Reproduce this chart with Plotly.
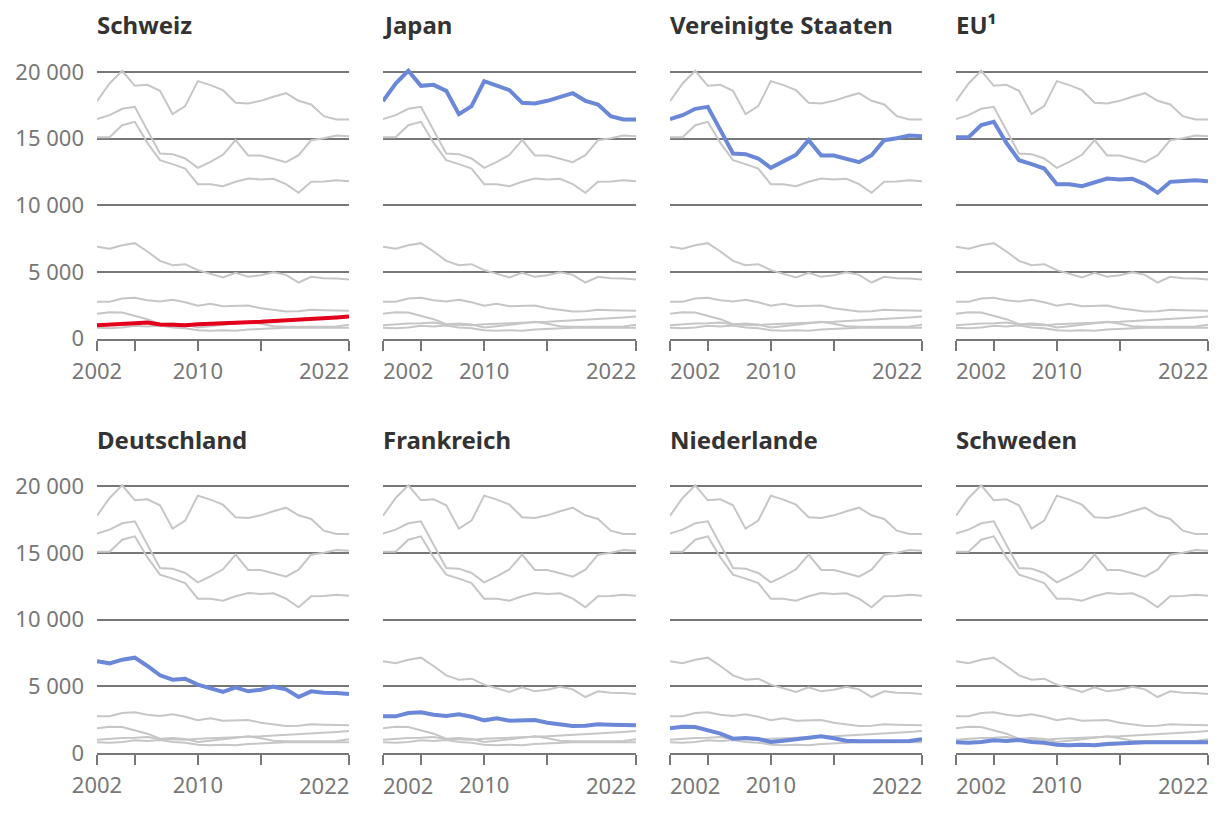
import plotly.graph_objects as go

years = list(range(2002, 2023))

countries = ["Schweiz", "Japan", "Vereinigte Staaten", "EU¹",
             "Deutschland", "Frankreich", "Niederlande", "Schweden"]

schweiz = [1000, 1075, 1125, 1150, 1200, 1050, 1025, 1000, 1075, 1125, 1150,
           1175, 1225, 1250, 1300, 1325, 1375, 1450, 1525, 1575, 1650]
japan = [17800, 19125, 20075, 18950, 19025, 18575, 16825, 17425, 19300, 19000, 18625,
         17675, 17625, 17825, 18125, 18400, 17825, 17550, 16675, 16425, 16425]
usa = [16450, 16750, 17225, 17375, 15625, 13875, 13825, 13500, 12800, 13250, 13775,
       14875, 13725, 13725, 13475, 13225, 13750, 14875, 15025, 15225, 15175]
eu = [15100, 15100, 16000, 16250, 14675, 13375, 13075, 12750, 11575, 11575, 11425,
      11750, 12000, 11925, 11975, 11575, 10925, 11750, 11775, 11875, 11800]
deutschland = [6875, 6725, 7000, 7150, 6525, 5825, 5500, 5575, 5125, 4825, 4575,
               4925, 4625, 4750, 4975, 4775, 4200, 4625, 4525, 4500, 4425]
frankreich = [2750, 2750, 3000, 3050, 2875, 2775, 2900, 2725, 2450, 2600, 2425,
              2425, 2475, 2275, 2125, 2025, 2050, 2150, 2125, 2125, 2075]
niederlande = [1850, 1975, 1950, 1725, 1450, 1075, 1125, 1050, 825, 925, 1025,
               1100, 1250, 1100, 925, 875, 875, 900, 900, 900, 1025]
schweden = [800, 775, 825, 950, 900, 975, 825, 775, 625, 575, 625,
            575, 675, 725, 775, 800, 800, 800, 800, 800, 800]

series = [schweiz, japan, usa, eu, deutschland, frankreich, niederlande, schweden]

y_tickvals = [0, 5000, 10000, 15000, 20000]
y_ticktext = ["0", "5 000", "10 000", "15 000", "20 000"]
x_tickvals = [2002, 2005, 2010, 2015, 2022]
x_ticktext_first = ["2002", "", "2010", "", ""]
x_ticktext_other = ["", "", "2010", "", ""]

GRAY = "#c6c6c6"
BLUE = "#6b87d8"
RED = "#e3001b"
AXIS = "#777777"
TEXT = "#333333"
FONT = "Noto Sans"

W, H = 1220, 820
OFF = 8  # page body offset
col_px = [(97, 349), (383, 636), (670, 922), (956, 1208)]
row_px = [(58.5, 338.5), (473, 753)]  # top, bottom pixel (visual)

fig = go.Figure()
layout = dict(
    width=W, height=H,
    margin=dict(l=0, r=0, t=0, b=0, autoexpand=False),
    paper_bgcolor="white", plot_bgcolor="white",
    showlegend=False,
    font=dict(family=FONT, size=22, color=AXIS),
)
annotations = []

for k, name in enumerate(countries):
    r, c = divmod(k, 4)
    ax = "" if k == 0 else str(k + 1)
    xa, ya = "x" + ax, "y" + ax
    x0, x1 = [v - OFF for v in col_px[c]]
    top, bot = [v - OFF for v in row_px[r]]
    layout["xaxis" + ax] = dict(
        domain=[x0 / W, x1 / W], anchor=ya, range=[2002, 2022],
        tickvals=x_tickvals,
        ticktext=x_ticktext_first if c == 0 else x_ticktext_other,
        automargin=False,
        showgrid=False, zeroline=False,
        showline=True, linecolor=AXIS, linewidth=2,
        ticks="outside", ticklen=10, tickwidth=2, tickcolor=AXIS,
        ticklabelstandoff=2,
        tickfont=dict(family=FONT, size=22, color=AXIS),
        fixedrange=True,
    )
    layout["yaxis" + ax] = dict(
        domain=[1 - bot / H, 1 - top / H], anchor=xa, range=[0, 21000],
        tickvals=y_tickvals, ticktext=y_ticktext, automargin=False,
        showgrid=True, gridcolor=AXIS, gridwidth=2,
        zeroline=False, showline=False, ticks="",
        showticklabels=(c == 0), ticklabelstandoff=12,
        tickfont=dict(family=FONT, size=22, color=AXIS),
        fixedrange=True,
    )
    for j, s in enumerate(series):
        if j == k:
            continue
        fig.add_trace(go.Scatter(x=years, y=s, mode="lines", xaxis=xa, yaxis=ya,
                                 line=dict(color=GRAY, width=2), hoverinfo="skip"))
    fig.add_trace(go.Scatter(x=years, y=series[k], mode="lines", xaxis=xa, yaxis=ya,
                             line=dict(color=RED if k == 0 else BLUE, width=4),
                             name=name))
    annotations.append(dict(
        text="<b>" + name + "</b>", xref="paper", yref="paper",
        x=x0 / W, y=1 - (top - 34) / H, xanchor="left", yanchor="middle",
        xshift=-2, showarrow=False, font=dict(family=FONT, size=24, color=TEXT),
    ))
    annotations.append(dict(
        text="2022", xref=xa, yref=ya, x=2022, y=0,
        xanchor="right", yanchor="top", yshift=-15, xshift=2, showarrow=False,
        font=dict(family=FONT, size=22, color=AXIS),
    ))
    if c > 0:
        annotations.append(dict(
            text="2002", xref=xa, yref=ya, x=2002, y=0,
            xanchor="left", yanchor="top", yshift=-15, xshift=-2, showarrow=False,
            font=dict(family=FONT, size=22, color=AXIS),
        ))

layout["annotations"] = annotations
fig.update_layout(**layout)
fig.write_html("out.html")
